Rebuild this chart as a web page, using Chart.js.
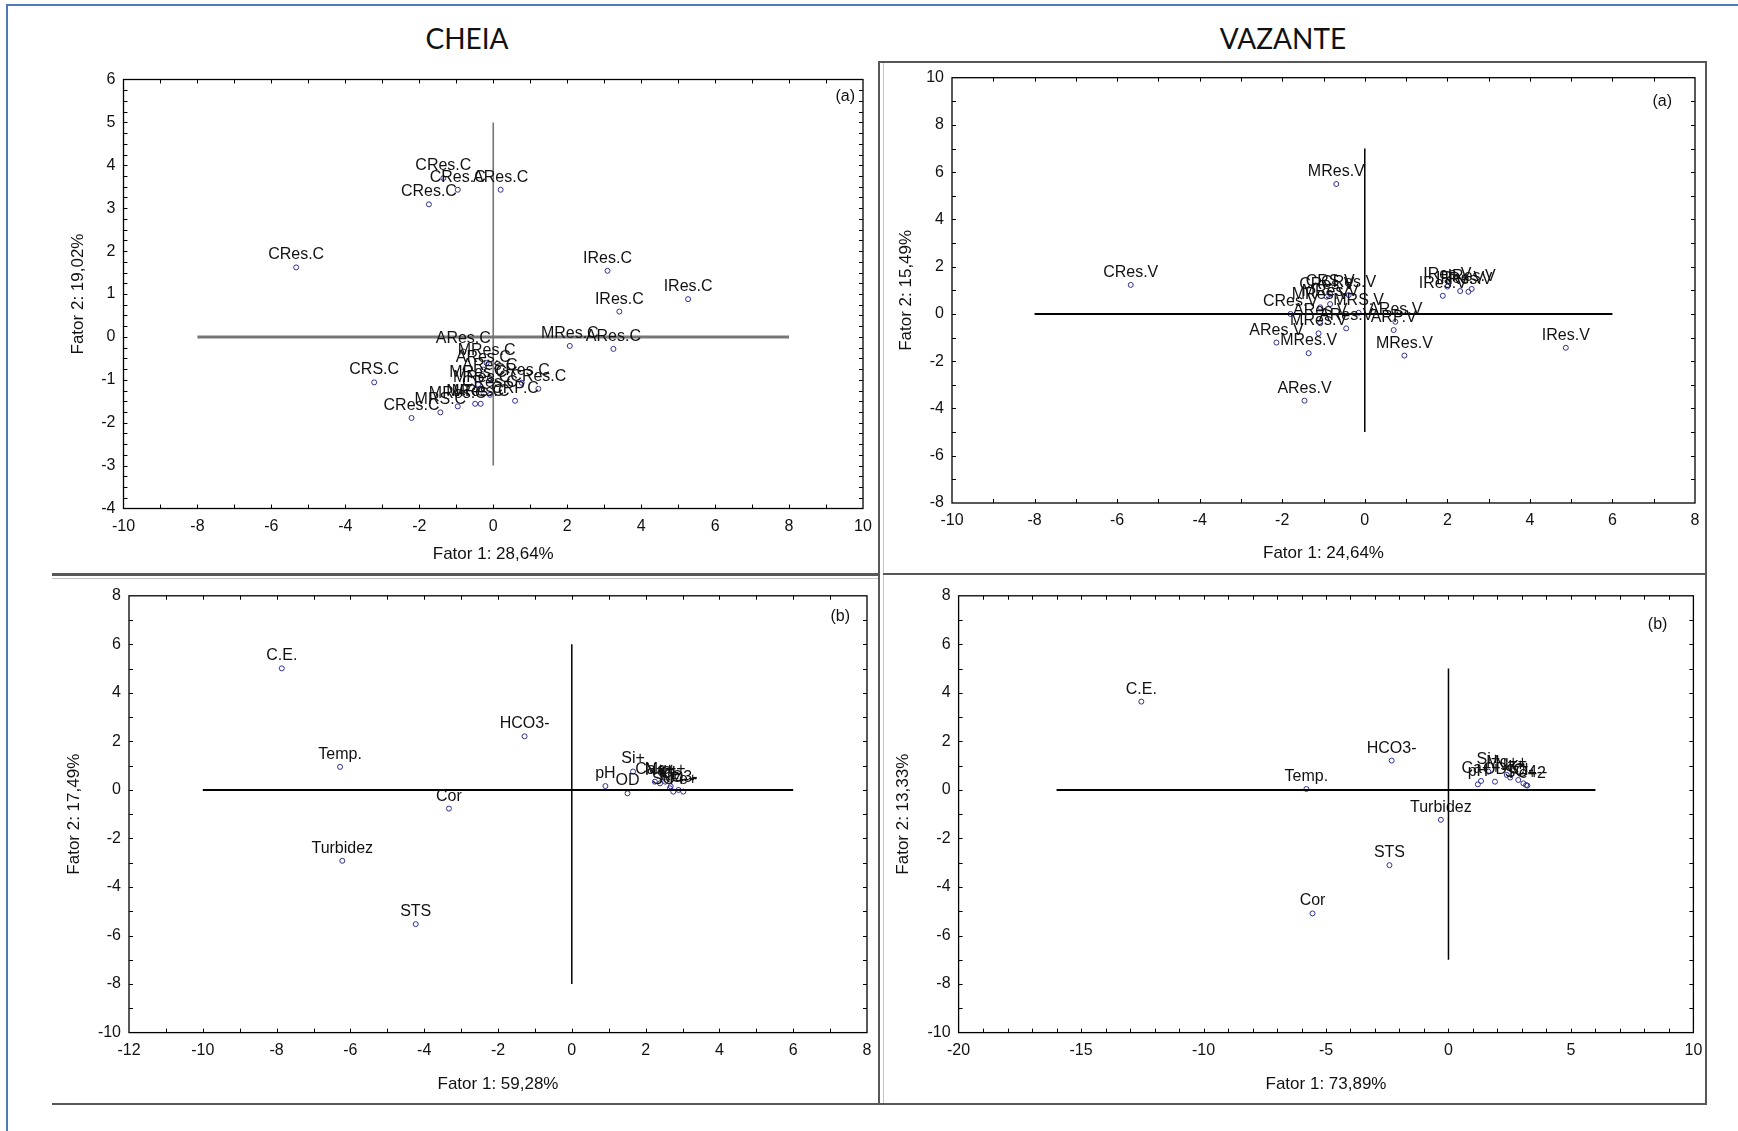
<!DOCTYPE html>
<html>
<head>
<meta charset="utf-8">
<script src="https://cdn.jsdelivr.net/npm/chart.js@4/dist/chart.umd.min.js"></script>
<style>
  html, body { margin: 0; padding: 0; background: #fff; }
  #page { position: relative; width: 1738px; height: 1131px; overflow: hidden; background: #fff; }
  #page canvas { position: absolute; left: 0; top: 0; }
  .rule { position: absolute; }
  .dark { background: #575757; }
  .light { background: #c4c4c4; }
  .blue { background: #4f7bb5; }
  .head { position: absolute; font-family: Lato, "Open Sans", sans-serif; font-size: 28px; color: #111;
          transform: translate(-50%, -50%); white-space: nowrap; line-height: 1.2; }
</style>
</head>
<body>
<div id="page">
  <!-- page border -->
  <div class="rule blue" style="left:6px;top:4px;width:1732px;height:2px"></div>
  <div class="rule blue" style="left:6px;top:4px;width:2px;height:1127px"></div>

  <!-- panel frames -->
  <div class="rule dark"  style="left:52px;top:573px;width:827px;height:3px"></div>
  <div class="rule light" style="left:52px;top:578px;width:827px;height:1px"></div>
  <div class="rule dark"  style="left:878px;top:61px;width:2px;height:1044px"></div>
  <div class="rule light" style="left:883px;top:61px;width:1px;height:1044px"></div>
  <div class="rule dark"  style="left:878px;top:61px;width:829px;height:2px"></div>
  <div class="rule dark"  style="left:1705px;top:61px;width:2px;height:1044px"></div>
  <div class="rule dark"  style="left:883px;top:573px;width:823px;height:2px"></div>
  <div class="rule dark"  style="left:52px;top:1103px;width:1655px;height:2px"></div>

  <div class="head" style="left:467px;top:39px">CHEIA</div>
  <div class="head" style="left:1283px;top:39px">VAZANTE</div>

  <canvas id="cheiaAmostras" width="1738" height="1131"></canvas>
  <canvas id="vazanteAmostras" width="1738" height="1131"></canvas>
  <canvas id="cheiaVariaveis" width="1738" height="1131"></canvas>
  <canvas id="vazanteVariaveis" width="1738" height="1131"></canvas>
</div>

<script>
// ---- CHEIA (a): escores das amostras ----
const cheiaAmostraNomes = ["CRes.C","CRes.C","CRes.C","CRes.C","ARes.C","IRes.C","IRes.C","IRes.C",
  "MRes.C","ARes.C","ARes.C","CRS.C","CRes.C","MRS.C","MRes.C","MRes.C","MRes.C","CRP.C",
  "CRes.C","CRes.C","MRes.C","ARes.C","ARes.C","MRes.C","MRes.C","CRes.C"];
const cheiaAmostraF1 = [-5.33,-1.74,-1.35,-0.96,0.20,3.09,3.41,5.27,
  2.07,3.25,-0.81,-3.22,-2.21,-1.43,-0.96,-0.49,-0.34,0.59,
  1.22,0.77,-0.18,-0.27,-0.09,-0.41,-0.31,-0.09];
const cheiaAmostraF2 = [1.62,3.09,3.70,3.43,3.43,1.54,0.59,0.88,
  -0.21,-0.28,-0.34,-1.06,-1.89,-1.76,-1.62,-1.56,-1.56,-1.49,
  -1.21,-1.07,-0.61,-0.76,-0.96,-1.11,-1.23,-1.35];

// ---- VAZANTE (a): escores das amostras ----
const vazanteAmostraNomes = ["CRes.V","MRes.V","IRes.V","ARes.V","MRes.V","ARes.V","MRes.V","ARP.V",
  "ARes.V","ARes.V","MRes.V","ARes.V","CRes.V","MRes.V","MRS.V","CRes.V","CRS.V","CRes.V","MRes.V",
  "IRes.V","IRes.V","IRes.V","IRes.V","IRes.V"];
const vazanteAmostraF1 = [-5.67,-0.69,4.87,-2.14,-1.36,-1.46,0.96,0.70,
  0.74,-0.45,-1.12,-1.08,-1.80,-1.08,-0.15,-0.92,-0.84,-0.39,-0.84,
  1.89,2.00,2.31,2.51,2.59];
const vazanteAmostraF2 = [1.23,5.50,-1.43,-1.21,-1.66,-3.67,-1.76,-0.68,
  -0.33,-0.61,-0.82,-0.39,0.00,0.28,0.05,0.73,0.85,0.80,0.42,
  0.77,1.16,0.97,0.94,1.06];

// ---- CHEIA (b): cargas das variáveis ----
const cheiaVarNomes = ["C.E.","HCO3-","Temp.","Cor","Turbidez","STS","pH","OD","Si+",
  "Ca++","Na+","Mg++","Cl-","K+","SO4--","NO3-","Fe+"];
const cheiaVarF1 = [-7.86,-1.28,-6.28,-3.33,-6.22,-4.23,0.91,1.51,1.66,
  2.25,2.39,2.53,2.68,2.66,2.75,2.89,3.02];
const cheiaVarF2 = [5.01,2.21,0.95,-0.77,-2.92,-5.53,0.16,-0.14,0.76,
  0.34,0.27,0.34,0.15,0.07,-0.07,0.00,-0.07];

// ---- VAZANTE (b): cargas das variáveis ----
const vazanteVarNomes = ["C.E.","HCO3-","Temp.","Turbidez","STS","Cor","pH","Ca++","Si+","OD",
  "Mg++","Na+","K+","Cl-","SO4--","Fe+2"];
const vazanteVarF1 = [-12.54,-2.32,-5.80,-0.31,-2.41,-5.55,1.20,1.33,1.63,1.90,
  2.38,2.52,2.85,3.06,3.17,3.22];
const vazanteVarF2 = [3.64,1.21,0.04,-1.23,-3.10,-5.09,0.23,0.37,0.75,0.34,
  0.62,0.51,0.41,0.27,0.20,0.18];

// eixos: [mín, máx, passo dos rótulos, passo das marcas]
const cheiaAmostraEixoX = [-10, 10, 2, 1];
const cheiaAmostraEixoY = [-4, 6, 1, 0.25];
const vazanteAmostraEixoX = [-10, 8, 2, 1];
const vazanteAmostraEixoY = [-8, 10, 2, 1];
const cheiaVarEixoX = [-12, 8, 2, 1];
const cheiaVarEixoY = [-10, 8, 2, 1];
const vazanteVarEixoX = [-20, 10, 5, 1];
const vazanteVarEixoY = [-10, 8, 2, 1];

// linhas de referência (eixos centrais): [início, fim]
const cheiaAmostraLinhaH = [-8, 8],  cheiaAmostraLinhaV = [-3, 5];
const vazanteAmostraLinhaH = [-8, 6], vazanteAmostraLinhaV = [-5, 7];
const cheiaVarLinhaH = [-10, 6],     cheiaVarLinhaV = [-8, 6];
const vazanteVarLinhaH = [-16, 6],   vazanteVarLinhaV = [-7, 5];

const FONTE = '"Liberation Sans", Arial, Helvetica, sans-serif';
const W = 1738, H = 1131;
const TITULO_PX = 17;

// moldura do gráfico com marcas internas nos quatro lados e rótulo do painel
const moldura = {
  id: 'moldura',
  afterDatasetsDraw(chart, args, o) {
    const { ctx, chartArea: a } = chart;
    const sx = chart.scales.x, sy = chart.scales.y;
    ctx.save();
    ctx.strokeStyle = '#000';
    ctx.lineWidth = 1.3;
    ctx.strokeRect(a.left, a.top, a.right - a.left, a.bottom - a.top);
    ctx.lineWidth = 1;
    ctx.beginPath();
    const n = Math.round((sx.max - sx.min) / o.xMarca);
    for (let i = 1; i < n; i++) {
      const p = Math.round(sx.getPixelForValue(sx.min + i * o.xMarca)) + 0.5;
      ctx.moveTo(p, a.bottom); ctx.lineTo(p, a.bottom - 4);
      ctx.moveTo(p, a.top); ctx.lineTo(p, a.top + 4);
    }
    const m = Math.round((sy.max - sy.min) / o.yMarca);
    for (let i = 1; i < m; i++) {
      const p = Math.round(sy.getPixelForValue(sy.min + i * o.yMarca)) + 0.5;
      ctx.moveTo(a.left, p); ctx.lineTo(a.left + 4, p);
      ctx.moveTo(a.right, p); ctx.lineTo(a.right - 4, p);
    }
    ctx.stroke();
    ctx.fillStyle = '#111';
    ctx.font = '16px ' + FONTE;
    ctx.textAlign = 'right';
    ctx.textBaseline = 'middle';
    ctx.fillText(o.tag, a.right - o.tagDx, a.top + o.tagDy);
    ctx.restore();
  }
};

// nome de cada ponto, centrado acima do marcador
const nomes = {
  id: 'nomes',
  afterDatasetsDraw(chart) {
    const ctx = chart.ctx;
    chart.data.datasets.forEach((ds, i) => {
      if (!ds.nomes) return;
      const meta = chart.getDatasetMeta(i);
      ctx.save();
      ctx.font = '16px ' + FONTE;
      ctx.fillStyle = '#111';
      ctx.textAlign = 'center';
      ctx.textBaseline = 'alphabetic';
      meta.data.forEach((pt, j) => ctx.fillText(ds.nomes[j], pt.x, pt.y - 8));
      ctx.restore();
    });
  }
};

function painel(id, p) {
  const meio = TITULO_PX * 1.2 / 2;
  const padLeft = p.yTituloX - meio;
  const larguraY = p.area.l - padLeft;
  const baseX = p.xTituloY + meio;
  const alturaX = baseX - p.area.b;

  const pontos = p.f1.map((v, i) => ({ x: v, y: p.f2[i] }));
  const linhaH = p.linhaH.map(v => ({ x: v, y: 0 }));
  const linhaV = p.linhaV.map(v => ({ x: 0, y: v }));

  const fonteTick = { family: FONTE, size: 16 };
  const fonteTit = { family: FONTE, size: TITULO_PX };

  new Chart(document.getElementById(id), {
    type: 'scatter',
    data: {
      datasets: [
        { data: linhaH, showLine: true, pointRadius: 0, borderColor: p.corLinha, borderWidth: p.espH, fill: false },
        { data: linhaV, showLine: true, pointRadius: 0, borderColor: p.corLinha, borderWidth: p.espV, fill: false },
        { data: pontos, nomes: p.nomes, pointRadius: 2.5, pointBorderWidth: 1,
          pointBorderColor: '#2f2f95', pointBackgroundColor: 'rgba(0,0,0,0)', showLine: false }
      ]
    },
    options: {
      responsive: false,
      animation: false,
      devicePixelRatio: 1,
      layout: { padding: { left: padLeft, top: p.area.t, right: W - p.area.r, bottom: H - baseX } },
      plugins: {
        legend: { display: false },
        tooltip: { enabled: false },
        moldura: { xMarca: p.eixoX[3], yMarca: p.eixoY[3], tag: p.tag, tagDx: p.tagDx, tagDy: p.tagDy }
      },
      scales: {
        x: {
          type: 'linear', position: 'bottom',
          min: p.eixoX[0], max: p.eixoX[1],
          ticks: { stepSize: p.eixoX[2], autoSkip: false, maxRotation: 0, padding: 8, color: '#111', font: fonteTick },
          grid: { display: false, drawTicks: false },
          border: { display: false },
          title: { display: true, text: p.tituloX, color: '#111', font: fonteTit, padding: 0 },
          afterFit(s) { s.height = alturaX; }
        },
        y: {
          type: 'linear', position: 'left',
          min: p.eixoY[0], max: p.eixoY[1],
          ticks: { stepSize: p.eixoY[2], autoSkip: false, padding: 8, color: '#111', font: fonteTick },
          grid: { display: false, drawTicks: false },
          border: { display: false },
          title: { display: true, text: p.tituloY, color: '#111', font: fonteTit, padding: 0 },
          afterFit(s) { s.width = larguraY; }
        }
      }
    },
    plugins: [moldura, nomes]
  });
}

painel('cheiaAmostras', {
  area: { l: 123.5, r: 863, t: 79.5, b: 508.5 }, yTituloX: 78, xTituloY: 554,
  nomes: cheiaAmostraNomes, f1: cheiaAmostraF1, f2: cheiaAmostraF2,
  eixoX: cheiaAmostraEixoX, eixoY: cheiaAmostraEixoY,
  linhaH: cheiaAmostraLinhaH, linhaV: cheiaAmostraLinhaV,
  corLinha: '#767676', espH: 3, espV: 1.6,
  tituloX: 'Fator 1: 28,64%', tituloY: 'Fator 2: 19,02%',
  tag: '(a)', tagDx: 8, tagDy: 17.5
});

painel('vazanteAmostras', {
  area: { l: 952, r: 1695, t: 77.7, b: 503 }, yTituloX: 906, xTituloY: 553,
  nomes: vazanteAmostraNomes, f1: vazanteAmostraF1, f2: vazanteAmostraF2,
  eixoX: vazanteAmostraEixoX, eixoY: vazanteAmostraEixoY,
  linhaH: vazanteAmostraLinhaH, linhaV: vazanteAmostraLinhaV,
  corLinha: '#000', espH: 2, espV: 1.5,
  tituloX: 'Fator 1: 24,64%', tituloY: 'Fator 2: 15,49%',
  tag: '(a)', tagDx: 23, tagDy: 24
});

painel('cheiaVariaveis', {
  area: { l: 129, r: 867, t: 595.8, b: 1032.6 }, yTituloX: 74, xTituloY: 1084,
  nomes: cheiaVarNomes, f1: cheiaVarF1, f2: cheiaVarF2,
  eixoX: cheiaVarEixoX, eixoY: cheiaVarEixoY,
  linhaH: cheiaVarLinhaH, linhaV: cheiaVarLinhaV,
  corLinha: '#000', espH: 2, espV: 1.5,
  tituloX: 'Fator 1: 59,28%', tituloY: 'Fator 2: 17,49%',
  tag: '(b)', tagDx: 17, tagDy: 21
});

painel('vazanteVariaveis', {
  area: { l: 958.6, r: 1693.4, t: 595.8, b: 1032.6 }, yTituloX: 903, xTituloY: 1084,
  nomes: vazanteVarNomes, f1: vazanteVarF1, f2: vazanteVarF2,
  eixoX: vazanteVarEixoX, eixoY: vazanteVarEixoY,
  linhaH: vazanteVarLinhaH, linhaV: vazanteVarLinhaV,
  corLinha: '#000', espH: 2, espV: 1.5,
  tituloX: 'Fator 1: 73,89%', tituloY: 'Fator 2: 13,33%',
  tag: '(b)', tagDx: 26, tagDy: 29
});
</script>
</body>
</html>
